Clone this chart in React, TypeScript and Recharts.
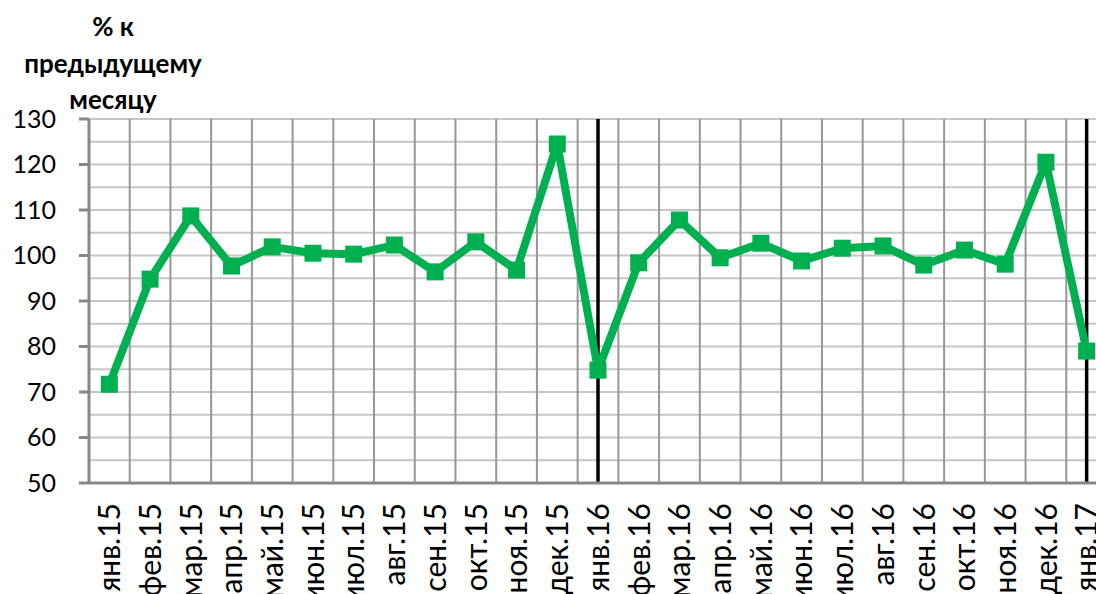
import React from 'react';
import { LineChart, Line, XAxis, YAxis, CartesianGrid, ReferenceLine } from 'recharts';

const months = ['янв.15','фев.15','мар.15','апр.15','май.15','июн.15','июл.15','авг.15','сен.15','окт.15','ноя.15','дек.15','янв.16','фев.16','мар.16','апр.16','май.16','июн.16','июл.16','авг.16','сен.16','окт.16','ноя.16','дек.16','янв.17'];
const values = [71.7,94.8,108.7,97.7,101.9,100.5,100.3,102.3,96.4,103.0,96.8,124.5,74.8,98.4,107.8,99.5,102.7,98.8,101.6,102.1,97.9,101.2,98.1,120.5,79.0];
const yTicks = [50,60,70,80,90,100,110,120,130];
const yGrid = [55,60,65,70,75,80,85,90,95,100,105,110,115,120,125,130];
const yearMarks = ['янв.16','янв.17'];
const titleLines = ['% к', 'предыдущему', 'месяцу'];

const data = months.map((m, i) => ({ m, v: values[i] }));

const FONT = 'Lato, "Open Sans", sans-serif';

const XTick = (props: any) => {
  const { x, payload } = props;
  return (
    <g transform={`translate(${x},503) rotate(-90)`}>
      <text x={0} y={0} dy="0.36em" textAnchor="end" fontFamily={FONT} fontSize={30} fill="#000">
        {payload.value}
      </text>
    </g>
  );
};

const Square = (props: any) => {
  const { cx, cy } = props;
  if (cx == null || cy == null) return null;
  const s = 17;
  return <rect x={cx - s / 2} y={cy - s / 2} width={s} height={s} fill="#00B050" />;
};

export default function App() {
  return (
    <div style={{ position: 'absolute', left: 0, top: 0, width: 1096, height: 594, overflow: 'hidden', background: '#fff' }}>
      <LineChart width={1120} height={594} data={data} margin={{ top: 119, right: 13, left: 0, bottom: 0 }}>
        <CartesianGrid
          vertical={false}
          stroke="#c6c6c6"
          strokeWidth={2}
          horizontalCoordinatesGenerator={({ offset }: any) =>
            yGrid.map((v) => offset.top + (offset.height * (130 - v)) / 80)
          }
        />
        <CartesianGrid
          horizontal={false}
          stroke="#979797"
          strokeWidth={2}
          verticalCoordinatesGenerator={({ offset }: any) =>
            months.slice(1).map((_, i) => offset.left + ((i + 1) * offset.width) / months.length)
          }
        />
        <XAxis
          dataKey="m"
          scale="band"
          interval={0}
          height={111}
          tick={<XTick />}
          tickLine={false}
          axisLine={{ stroke: '#878787', strokeWidth: 3 }}
        />
        <YAxis
          domain={[50, 130]}
          ticks={yTicks}
          interval={0}
          width={89}
          tickSize={10}
          tickMargin={23}
          tick={{ fontFamily: FONT, fontSize: 25, fill: '#000' }}
          tickLine={{ stroke: '#878787', strokeWidth: 3 }}
          axisLine={{ stroke: '#878787', strokeWidth: 3 }}
        />
        {yearMarks.map((m) => (
          <ReferenceLine key={m} x={m} stroke="#000" strokeWidth={3.5} />
        ))}
        <Line
          dataKey="v"
          stroke="#00B050"
          strokeWidth={8}
          strokeLinejoin="round"
          dot={<Square />}
          activeDot={false}
          isAnimationActive={false}
        />
      </LineChart>
      <div style={{ position: 'absolute', left: 13, top: 8, width: 200, textAlign: 'center', fontFamily: FONT, fontWeight: 700, fontSize: 26, lineHeight: '36.5px', color: '#000' }}>
        {titleLines.map((t) => (
          <div key={t}>{t}</div>
        ))}
      </div>
    </div>
  );
}
